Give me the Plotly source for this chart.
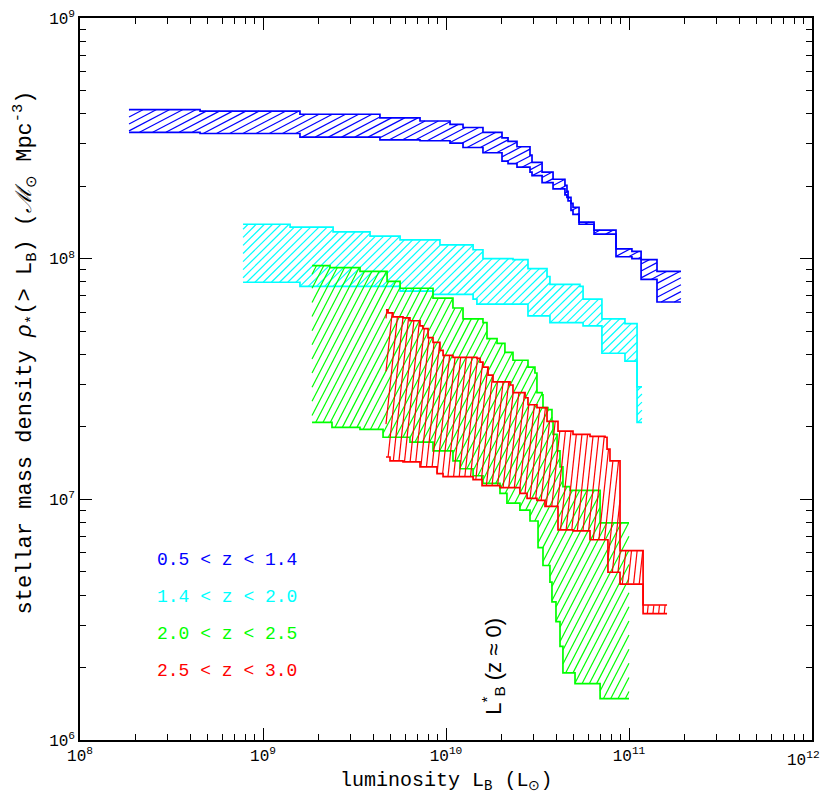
import numpy as np
import plotly.graph_objects as go

# cumulative stellar mass density bands (log10 values)
# each boundary is a step function: level holds from its logL to the next one

blue_logL = [8.268, 8.656, 9.202, 9.639, 9.858, 10.022, 10.093, 10.202, 10.306, 10.339,
             10.388, 10.459, 10.470, 10.525, 10.585, 10.650, 10.661, 10.667, 10.683, 10.694,
             10.727, 10.809, 10.929, 11.016, 11.066, 11.153, 11.284]
blue_up = [8.619, 8.613, 8.600, 8.585, 8.572, 8.558, 8.545, 8.525, 8.502, 8.487,
           8.465, 8.430, 8.400, 8.360, 8.330, 8.305, 8.280, 8.255, 8.230, 8.213,
           8.152, 8.119, 8.041, 8.030, 7.996, 7.947, 7.947]
blue_lo = [8.525, 8.520, 8.505, 8.494, 8.490, 8.480, 8.462, 8.440, 8.405, 8.395,
           8.380, 8.360, 8.345, 8.316, 8.290, 8.265, 8.255, 8.240, 8.201, 8.184,
           8.143, 8.102, 8.008, 8.000, 7.914, 7.820, 7.820]

cyan_up_logL = [8.891, 9.148, 9.383, 9.585, 9.749, 9.967, 10.148, 10.202, 10.366, 10.448,
                10.552, 10.568, 10.732, 10.749, 10.852, 10.978, 11.044, 11.071]
cyan_up = [8.143, 8.131, 8.111, 8.094, 8.078, 8.057, 8.037, 8.000, 7.996, 7.959,
           7.926, 7.893, 7.885, 7.832, 7.750, 7.730, 7.467, 7.467]
cyan_lo_logL = [8.891, 9.202, 9.749, 9.929, 10.148, 10.169, 10.448, 10.568, 10.749, 10.852,
                10.978, 11.044, 11.071]
cyan_lo = [7.902, 7.885, 7.865, 7.852, 7.832, 7.811, 7.762, 7.734, 7.721, 7.607,
           7.574, 7.320, 7.320]

green_up_logL = [9.268, 9.366, 9.530, 9.678, 9.749, 9.929, 10.038, 10.093, 10.202, 10.224,
                 10.279, 10.322, 10.366, 10.448, 10.486, 10.497, 10.525, 10.530, 10.557, 10.579,
                 10.585, 10.607, 10.623, 10.639, 10.678, 10.842, 11.000]
green_up = [7.971, 7.963, 7.947, 7.906, 7.877, 7.836, 7.795, 7.750, 7.734, 7.668,
            7.648, 7.611, 7.578, 7.549, 7.525, 7.443, 7.434, 7.381, 7.373, 7.324,
            7.270, 7.201, 7.135, 7.053, 7.037, 6.902, 6.902]
green_lo_logL = [9.268, 9.377, 9.530, 9.656, 9.803, 9.929, 10.038, 10.077, 10.148, 10.202,
                 10.295, 10.333, 10.404, 10.459, 10.503, 10.530, 10.568, 10.579, 10.601, 10.623,
                 10.639, 10.705, 10.842, 11.000]
green_lo = [7.320, 7.299, 7.291, 7.258, 7.238, 7.201, 7.160, 7.127, 7.098, 7.066,
            7.025, 6.984, 6.955, 6.910, 6.799, 6.725, 6.656, 6.574, 6.492, 6.389,
            6.279, 6.234, 6.172, 6.172]

red_up_logL = [9.672, 9.683, 9.710, 9.765, 9.803, 9.858, 9.874, 9.902, 9.929, 9.967,
               9.984, 10.038, 10.169, 10.186, 10.202, 10.230, 10.257, 10.350, 10.366, 10.432,
               10.448, 10.497, 10.552, 10.612, 10.694, 10.787, 10.869, 10.880, 10.896, 10.951,
               11.077, 11.208]
red_up = [7.787, 7.775, 7.758, 7.754, 7.742, 7.721, 7.709, 7.672, 7.652, 7.619,
          7.598, 7.590, 7.586, 7.570, 7.549, 7.516, 7.488, 7.475, 7.443, 7.422,
          7.393, 7.381, 7.324, 7.283, 7.270, 7.262, 7.258, 7.209, 7.160, 6.787,
          6.561, 6.561]
red_lo_logL = [9.672, 9.694, 9.765, 9.858, 9.951, 9.984, 10.148, 10.197, 10.295, 10.404,
               10.443, 10.497, 10.541, 10.612, 10.694, 10.787, 10.885, 10.951, 11.077, 11.208]
red_lo = [7.176, 7.160, 7.156, 7.135, 7.107, 7.094, 7.082, 7.057, 7.049, 7.025,
          7.004, 6.996, 6.971, 6.873, 6.869, 6.832, 6.697, 6.648, 6.525, 6.525]

labels = ["0.5 &lt; z &lt; 1.4", "1.4 &lt; z &lt; 2.0", "2.0 &lt; z &lt; 2.5", "2.5 &lt; z &lt; 3.0"]
colors = ["#0000ff", "#00ffff", "#00ff00", "#ff0000"]
hatch_angle = [28, 45, 63, 84]      # degrees
hatch_gap = [6.2, 5.8, 6.5, 5.6]    # px between hatch lines

x_decades = [8, 9, 10, 11, 12]
y_decades = [6, 7, 8, 9]

LSTAR_B = 1.8e10   # local L*_B marker

# figure geometry; the page puts an 8px body margin round the figure
W, H = 822, 795
M = dict(l=72, r=18, t=0, b=63)
X_RANGE = [8, 12]
Y_RANGE = [6, 9]
PX_X = (W - M["l"] - M["r"]) / (X_RANGE[1] - X_RANGE[0])   # px per decade
PX_Y = (H - M["t"] - M["b"]) / (Y_RANGE[1] - Y_RANGE[0])

bands = [
    (blue_logL, blue_up, blue_logL, blue_lo),
    (cyan_up_logL, cyan_up, cyan_lo_logL, cyan_lo),
    (green_up_logL, green_up, green_lo_logL, green_lo),
    (red_up_logL, red_up, red_lo_logL, red_lo),
]


def step_at(xs, ys, u):
    idx = np.searchsorted(xs, u, side="right") - 1
    return ys[np.clip(idx, 0, len(xs) - 2)]


def hatch_lines(xu, yu, xl, yl, angle, gap):
    """Diagonal hatching clipped between two step curves, done in screen-like units."""
    xu = np.asarray(xu) * PX_X
    xl = np.asarray(xl) * PX_X
    yu = np.asarray(yu) * PX_Y
    yl = np.asarray(yl) * PX_Y
    u = np.arange(max(xu[0], xl[0]), min(xu[-1], xl[-1]), 0.05)
    top = step_at(xu, yu, u)
    bot = step_at(xl, yl, u)
    t = np.tan(np.radians(angle))
    dc = gap / np.cos(np.radians(angle))
    hx, hy = [], []
    for c in np.arange((bot - t * u).min() + dc / 2, (top - t * u).max(), dc):
        v = c + t * u
        inside = (v >= bot) & (v <= top)
        if not inside.any():
            continue
        d = np.diff(np.concatenate([[0], inside.astype(int), [0]]))
        for s, e in zip(np.where(d == 1)[0], np.where(d == -1)[0] - 1):
            if e - s < 2:
                continue
            hx += [10 ** (u[s] / PX_X), 10 ** (u[e] / PX_X), None]
            hy += [10 ** (v[s] / PX_Y), 10 ** (v[e] / PX_Y), None]
    return hx, hy


fig = go.Figure()

for (xu, yu, xl, yl), col, ang, gap in zip(bands, colors, hatch_angle, hatch_gap):
    hx, hy = hatch_lines(xu, yu, xl, yl, ang, gap)
    fig.add_trace(go.Scatter(x=hx, y=hy, mode="lines", line=dict(color=col, width=1.2),
                             hoverinfo="skip", showlegend=False))
    for bx, by in [(xu, yu), (xl, yl)]:
        fig.add_trace(go.Scatter(x=[10 ** v for v in bx], y=[10 ** v for v in by],
                                 mode="lines", line=dict(color=col, width=1.7, shape="hv"),
                                 showlegend=False))

# band labels, stacked in the lower left
for i, (lab, col) in enumerate(zip(labels, colors)):
    fig.add_annotation(text=lab, xref="paper", yref="paper", x=0.1025, y=0.250 - i * 0.0515,
                       xanchor="left", yanchor="middle", showarrow=False,
                       font=dict(family="Liberation Mono", size=18, color=col))

fig.add_annotation(text="L<sup>*</sup><sub>B</sub> (z ≈ 0)", x=np.log10(LSTAR_B), y=6.307,
                   textangle=-90, showarrow=False, xanchor="center", yanchor="middle",
                   font=dict(family="Liberation Sans", size=22, color="black"))

fig.add_annotation(text="luminosity L<sub>B</sub> (L<sub>⊙</sub>)", xref="paper", yref="paper",
                   x=0.5, y=-0.058, xanchor="center", yanchor="middle", showarrow=False,
                   font=dict(family="Liberation Mono", size=20, color="black"))

fig.add_annotation(text="stellar mass density <i>ρ</i><sub>*</sub>(> L<sub>B</sub>) "
                        "(<i>ℳ</i><sub>⊙</sub> Mpc<sup>-3</sup>)",
                   xref="paper", yref="paper", x=-0.075, y=0.537, textangle=-90,
                   xanchor="center", yanchor="middle", showarrow=False,
                   font=dict(family="Liberation Mono", size=22, color="black"))

tick_font = dict(family="Liberation Mono", size=16, color="black")

# the last x label sits at the window edge: right-align it so it stays whole
fig.add_annotation(text=f"10<sup>{x_decades[-1]}</sup>", xref="paper", yref="paper",
                   x=1, y=0, xanchor="right", yanchor="top", xshift=10, yshift=-7,
                   showarrow=False, font=tick_font)

axis_style = dict(
    type="log", showgrid=False, zeroline=False,
    showline=True, linecolor="black", linewidth=1.5, mirror="allticks",
    ticks="inside", ticklen=12, tickwidth=1.3, tickcolor="black",
    ticklabeloverflow="allow", tickfont=tick_font,
    minor=dict(ticks="inside", ticklen=6, tickwidth=1.2, tickcolor="black",
               tickmode="linear", dtick="D1", showgrid=False),
)

fig.update_layout(
    width=W, height=H, margin=M,
    paper_bgcolor="white", plot_bgcolor="white",
    showlegend=False,
    xaxis=dict(range=X_RANGE, tickmode="array",
               tickvals=[10 ** d for d in x_decades],
               ticktext=[f"10<sup>{d}</sup>" for d in x_decades[:-1]] + [""],
               **axis_style),
    yaxis=dict(range=Y_RANGE, tickmode="array",
               tickvals=[10 ** d for d in y_decades],
               ticktext=[f"10<sup>{d}</sup>" for d in y_decades],
               **axis_style),
)

fig.write_html("out.html", config={"displayModeBar": False})
